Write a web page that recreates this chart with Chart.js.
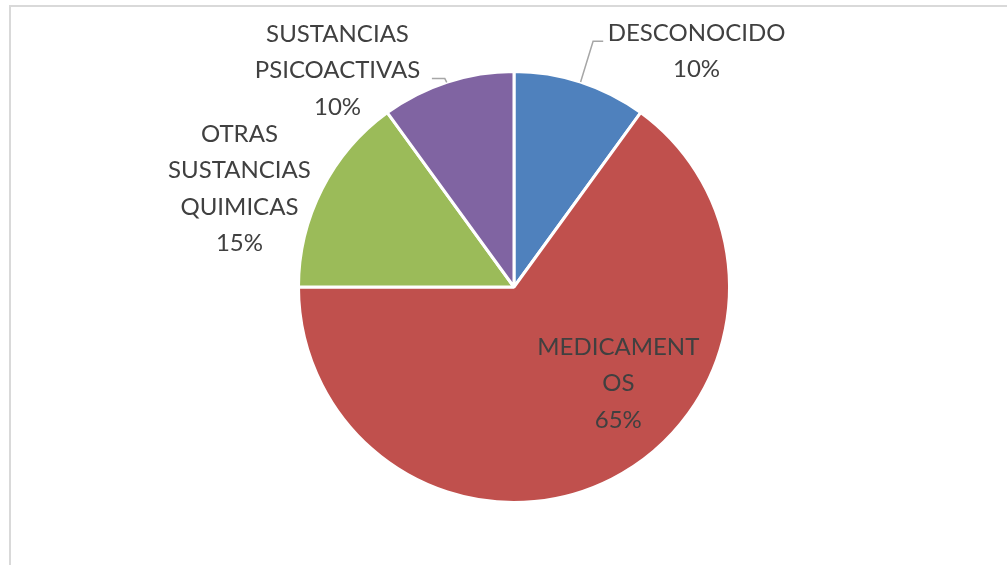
<!DOCTYPE html>
<html>
<head>
<meta charset="utf-8">
<script src="https://cdn.jsdelivr.net/npm/chart.js@4.4.0/dist/chart.umd.min.js"></script>
<style>
  html, body { margin:0; padding:0; background:#fff; overflow:hidden; }
  #wrap { position:relative; width:1007px; height:565px; }
  #frame { position:absolute; left:9px; top:5px; width:1100px; height:700px; border:2px solid #d9d9d9; }
  #pieChart { position:absolute; left:0; top:0; }
</style>
</head>
<body>
<div id="wrap">
  <div id="frame"></div>
  <canvas id="pieChart" width="1007" height="565"></canvas>
</div>
<script>
const categories = ['DESCONOCIDO', 'MEDICAMENTOS', 'OTRAS SUSTANCIAS QUIMICAS', 'SUSTANCIAS PSICOACTIVAS'];
const percentages = [10, 65, 15, 10];
const labelLines = [
  ['DESCONOCIDO'],
  ['MEDICAMENT', 'OS'],
  ['OTRAS', 'SUSTANCIAS', 'QUIMICAS'],
  ['SUSTANCIAS', 'PSICOACTIVAS']
];
const sliceColors = ['#4f81bd', '#c0504d', '#9bbb59', '#8064a2'];

// label block centres, as fractions of the radius from the pie centre
const labelPos = [
  { x: 0.847, y: -1.093 },
  { x: 0.484, y: 0.447 },
  { x: -1.274, y: -0.456 },
  { x: -0.819, y: -1.005 }
];

const pieLabels = {
  id: 'pieLabels',
  afterDatasetsDraw(chart) {
    const ctx = chart.ctx;
    const meta = chart.getDatasetMeta(0);
    const lineH = 36.5;
    ctx.save();
    ctx.font = '24px Lato';
    ctx.fillStyle = '#404040';
    ctx.textAlign = 'center';
    ctx.textBaseline = 'middle';
    meta.data.forEach((arc, i) => {
      const r = arc.outerRadius;
      const cx = arc.x + labelPos[i].x * r;
      const cy = arc.y + labelPos[i].y * r;
      const lines = labelLines[i].concat([percentages[i] + '%']);
      const top = cy - (lines.length - 1) * lineH / 2;
      lines.forEach((t, j) => ctx.fillText(t, cx, top + j * lineH));
    });

    // leader lines
    ctx.strokeStyle = '#a6a6a6';
    ctx.lineWidth = 1.5;
    const a0 = meta.data[0];
    const mid0 = (a0.startAngle + a0.endAngle) / 2;
    const r0 = a0.outerRadius;
    ctx.beginPath();
    ctx.moveTo(a0.x + 0.414 * r0, a0.y - 1.14 * r0);
    ctx.lineTo(a0.x + 0.367 * r0, a0.y - 1.14 * r0);
    ctx.lineTo(a0.x + Math.cos(mid0) * r0, a0.y + Math.sin(mid0) * r0);
    ctx.stroke();

    const a3 = meta.data[3];
    const r3 = a3.outerRadius;
    ctx.beginPath();
    ctx.moveTo(a3.x - 0.381 * r3, a3.y - 0.967 * r3);
    ctx.lineTo(a3.x - 0.321 * r3, a3.y - 0.967 * r3);
    ctx.lineTo(a3.x - 0.312 * r3, a3.y - 0.95 * r3);
    ctx.stroke();
    ctx.restore();
  }
};

const ctx = document.getElementById('pieChart').getContext('2d');
const pieChart = new Chart(ctx, {
  type: 'pie',
  data: {
    labels: categories,
    datasets: [{
      data: percentages,
      backgroundColor: sliceColors,
      borderColor: '#ffffff',
      borderWidth: 3
    }]
  },
  options: {
    responsive: false,
    animation: false,
    layout: { padding: { top: 70, bottom: 61, left: 297, right: 276 } },
    plugins: {
      legend: { display: false },
      tooltip: { enabled: false }
    }
  },
  plugins: [pieLabels]
});
</script>
</body>
</html>
